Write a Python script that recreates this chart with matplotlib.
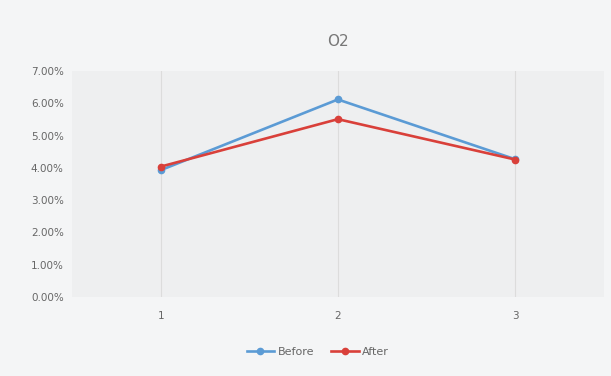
import matplotlib.pyplot as plt
from matplotlib.ticker import PercentFormatter

categories = ["1", "2", "3"]
before = [0.0393, 0.0612, 0.0427]
after = [0.0404, 0.0551, 0.0426]
yticks = [0.0, 0.01, 0.02, 0.03, 0.04, 0.05, 0.06, 0.07]

fig = plt.figure(figsize=(6.11, 3.76), dpi=100)
fig.patch.set_facecolor("#f4f5f6")
ax = fig.add_axes([0.118, 0.21, 0.870, 0.601])
ax.set_facecolor("#eeeff0")

x = list(range(len(categories)))
ax.plot(x, before, color="#5b9bd5", lw=1.9, marker="o", ms=4.5, label="Before")
ax.plot(x, after, color="#d9403a", lw=1.9, marker="o", ms=4.5, label="After")

ax.set_xlim(-0.5, 2.5)
ax.set_ylim(0, 0.07)
ax.set_xticks(x)
ax.set_xticklabels(categories)
ax.set_yticks(yticks)
ax.yaxis.set_major_formatter(PercentFormatter(1.0, decimals=2))
ax.tick_params(length=0, labelsize=7.5, colors="#666666", pad=6)
ax.tick_params(axis="x", pad=10)
for v in x:
    ax.axvline(v, color="#dcdcdc", lw=0.8, zorder=0)
for s in ax.spines.values():
    s.set_visible(False)

ax.set_title("O2", fontsize=11, color="#777777", pad=18)
fig.legend(loc="center", bbox_to_anchor=(0.52, 0.064), ncol=2, frameon=False,
           fontsize=8, labelcolor="#666666", handlelength=2.5, columnspacing=1.5,
           handletextpad=0.3)

fig.savefig("out.png", dpi=100, facecolor=fig.get_facecolor())
